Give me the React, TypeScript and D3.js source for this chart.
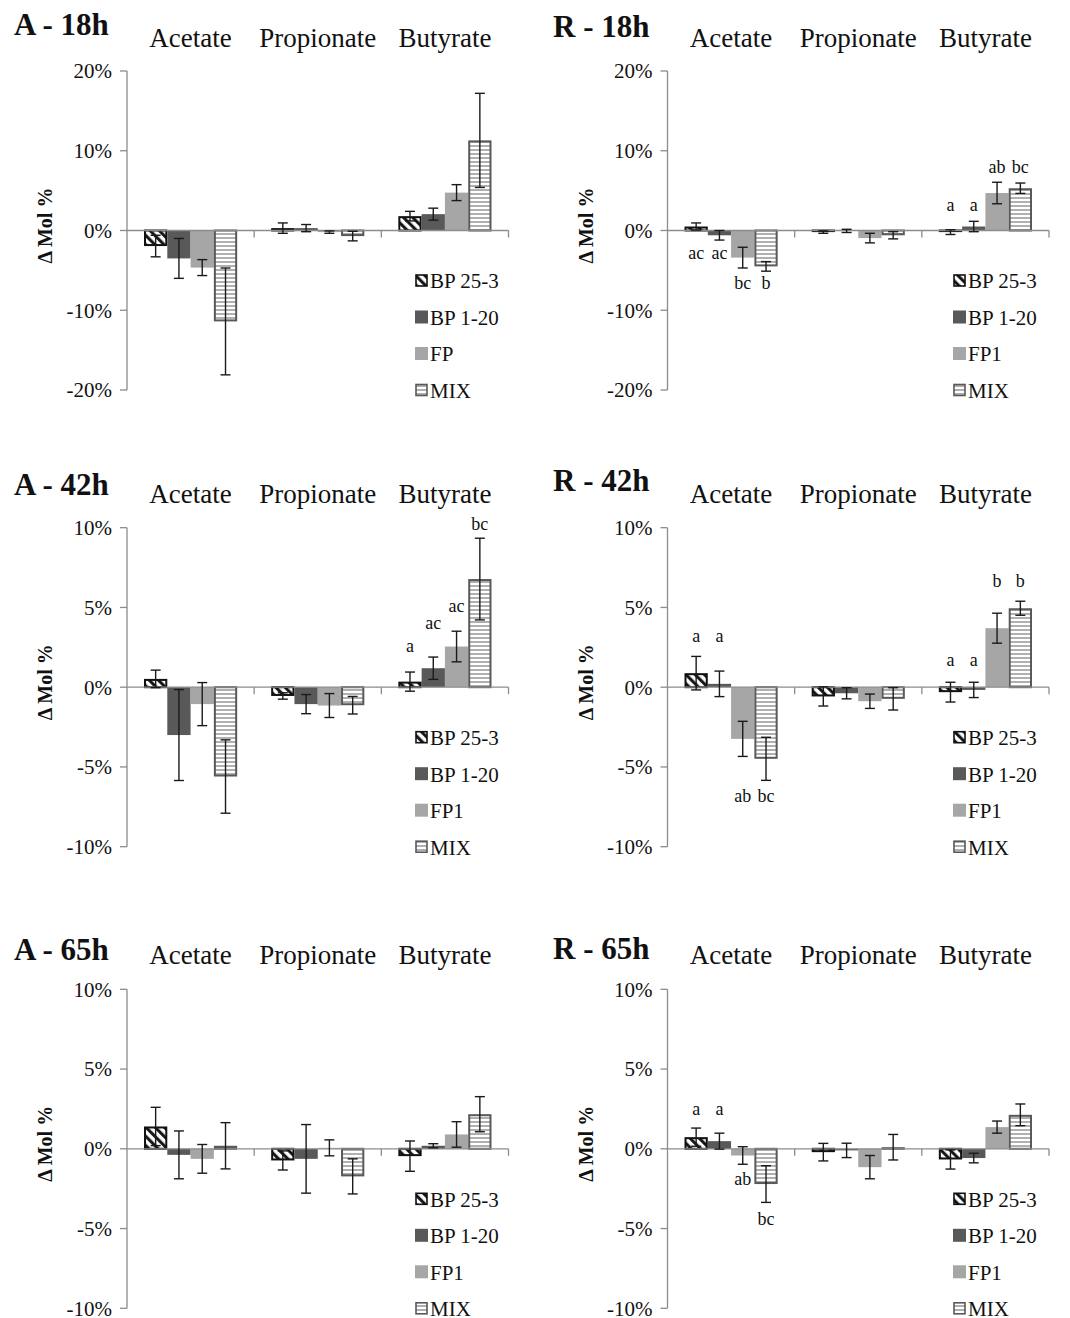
import React from 'react';
import * as d3 from 'd3';

const categories = ['Acetate', 'Propionate', 'Butyrate'];
const seriesA18h = ['BP 25-3', 'BP 1-20', 'FP', 'MIX'];
const seriesNames = ['BP 25-3', 'BP 1-20', 'FP1', 'MIX'];
const ticksWide = [20, 10, 0, -10, -20];
const ticksNarrow = [10, 5, 0, -5, -10];

// values in %, one row per category, one column per series
const a18Mean = [[-1.95, -3.5, -4.65, -11.4], [0.3, 0.3, -0.2, -0.7], [1.8, 2.05, 4.75, 11.3]];
const a18Err = [[1.35, 2.5, 1.0, 6.7], [0.65, 0.45, 0.15, 0.6], [0.6, 0.75, 1.0, 5.9]];
const r18Mean = [[0.5, -0.6, -3.4, -4.5], [-0.2, -0.05, -0.95, -0.6], [-0.2, 0.5, 4.7, 5.3]];
const r18Err = [[0.45, 0.6, 1.3, 0.6], [0.15, 0.2, 0.6, 0.45], [0.3, 0.65, 1.35, 0.65]];
const a42Mean = [[0.52, -3.0, -1.06, -5.6], [-0.55, -1.06, -1.15, -1.13], [0.35, 1.19, 2.55, 6.78]];
const a42Err = [[0.55, 2.85, 1.35, 2.3], [0.2, 0.6, 0.75, 0.55], [0.6, 0.7, 0.96, 2.56]];
const r42Mean = [[0.88, 0.21, -3.24, -4.49], [-0.58, -0.38, -0.88, -0.73], [-0.31, -0.17, 3.7, 4.95]];
const r42Err = [[1.05, 0.8, 1.1, 1.35], [0.6, 0.35, 0.45, 0.7], [0.62, 0.48, 0.94, 0.44]];
const a65Mean = [[1.4, -0.38, -0.63, 0.19], [-0.73, -0.63, 0.06, -1.73], [-0.46, 0.19, 0.9, 2.17]];
const a65Err = [[1.2, 1.5, 0.9, 1.45], [0.6, 2.15, 0.5, 1.1], [0.95, 0.13, 0.8, 1.1]];
const r65Mean = [[0.73, 0.48, -0.42, -2.21], [-0.21, -0.1, -1.15, 0.1], [-0.67, -0.58, 1.36, 2.13]];
const r65Err = [[0.57, 0.5, 0.55, 1.15], [0.55, 0.45, 0.73, 0.8], [0.6, 0.3, 0.38, 0.68]];

// significance letters and the value (%) they sit at
const noLetters = [['', '', '', ''], ['', '', '', ''], ['', '', '', '']];
const noLetterAt = [[0, 0, 0, 0], [0, 0, 0, 0], [0, 0, 0, 0]];
const r18Letters = [['ac', 'ac', 'bc', 'b'], ['', '', '', ''], ['a', 'a', 'ab', 'bc']];
const r18LetterAt = [[-2.9, -2.9, -6.6, -6.6], [0, 0, 0, 0], [3.1, 3.1, 7.9, 7.9]];
const a42Letters = [['', '', '', ''], ['', '', '', ''], ['a', 'ac', 'ac', 'bc']];
const a42LetterAt = [[0, 0, 0, 0], [0, 0, 0, 0], [2.54, 4.0, 5.04, 10.19]];
const r42Letters = [['a', 'a', 'ab', 'bc'], ['', '', '', ''], ['a', 'a', 'b', 'b']];
const r42LetterAt = [[3.16, 3.16, -6.84, -6.84], [0, 0, 0, 0], [1.64, 1.64, 6.6, 6.6]];
const r65Letters = [['a', 'a', 'ab', 'bc'], ['', '', '', ''], ['', '', '', '']];
const r65LetterAt = [[2.44, 2.44, -1.92, -4.44], [0, 0, 0, 0], [0, 0, 0, 0]];

const serif = "'Times New Roman', 'Liberation Serif', serif";
const fills = ['url(#hatch)', '#595959', '#a6a6a6', 'url(#stripes)'];
const strokes = ['#111', 'none', 'none', '#595959'];

const cols = [{x0: 127, titleX: 14}, {x0: 667.5, titleX: 553}];
const rows = [
  {top: 71, titleY: [35, 36.5], catY: 46.7},
  {top: 527.7, titleY: [495, 491], catY: 503.3},
  {top: 989.3, titleY: [960, 958.5], catY: 964.3},
];
const plotW = 381.5;
const plotH = 319;

const panels = [
  {title: 'A - 18h', row: 0, col: 0, ticks: ticksWide, series: seriesA18h, mean: a18Mean, err: a18Err, letters: noLetters, letterAt: noLetterAt},
  {title: 'R - 18h', row: 0, col: 1, ticks: ticksWide, series: seriesNames, mean: r18Mean, err: r18Err, letters: r18Letters, letterAt: r18LetterAt},
  {title: 'A - 42h', row: 1, col: 0, ticks: ticksNarrow, series: seriesNames, mean: a42Mean, err: a42Err, letters: a42Letters, letterAt: a42LetterAt},
  {title: 'R - 42h', row: 1, col: 1, ticks: ticksNarrow, series: seriesNames, mean: r42Mean, err: r42Err, letters: r42Letters, letterAt: r42LetterAt},
  {title: 'A - 65h', row: 2, col: 0, ticks: ticksNarrow, series: seriesNames, mean: a65Mean, err: a65Err, letters: noLetters, letterAt: noLetterAt},
  {title: 'R - 65h', row: 2, col: 1, ticks: ticksNarrow, series: seriesNames, mean: r65Mean, err: r65Err, letters: r65Letters, letterAt: r65LetterAt},
];

function Panel({p}: {p: any}) {
  const {x0, titleX} = cols[p.col];
  const {top, titleY, catY} = rows[p.row];
  const y = d3.scaleLinear().domain(d3.extent(p.ticks) as [number, number]).range([top + plotH, top]);
  const x = d3.scaleBand().domain(categories).range([x0, x0 + plotW]).padding(0);
  const xs = d3.scaleBand().domain(d3.range(4).map(String)).range([0, x.bandwidth()]).paddingInner(0).paddingOuter(0.73);
  const y0 = y(0);
  const axisCol = '#8c8c8c';
  return (
    <g>
      <text x={titleX} y={titleY[p.col]} fontFamily={serif} fontWeight="bold" fontSize={31} fill="#111">{p.title}</text>
      {categories.map(c => (
        <text key={c} x={x(c)! + x.bandwidth() / 2} y={catY} textAnchor="middle" fontFamily={serif} fontSize={27} fill="#111">{c}</text>
      ))}
      <text transform={`translate(${x0 - 82},${top + plotH / 2 - 5}) rotate(-90)`} textAnchor="middle" dy="0.35em"
        fontFamily={serif} fontWeight="bold" fontSize={20} fill="#111">Δ Mol %</text>
      <line x1={x0} x2={x0} y1={top} y2={top + plotH} stroke={axisCol} strokeWidth={1.3} />
      {p.ticks.map((t: number) => (
        <g key={t}>
          <line x1={x0 - 7} x2={x0} y1={y(t)} y2={y(t)} stroke={axisCol} strokeWidth={1.3} />
          <text x={x0 - 15} y={y(t)} dy="0.35em" textAnchor="end" fontFamily={serif} fontSize={21} fill="#111">{t + '%'}</text>
        </g>
      ))}
      {categories.map((c, ci) => p.mean[ci].map((v: number, si: number) => {
        const bx = x(c)! + xs(String(si))!;
        const bw = xs.bandwidth();
        const e = p.err[ci][si];
        const cx = bx + bw / 2;
        const yt = y(Math.max(v, 0));
        const h = Math.abs(y(v) - y0);
        const ins = strokes[si] === 'none' ? 0 : 1;
        return (
          <g key={c + si}>
            <rect x={bx + ins} y={yt + (v >= 0 ? ins : 0)} width={bw - 2 * ins} height={Math.max(h - ins, 0.5)}
              fill={fills[si]} stroke={strokes[si]} strokeWidth={strokes[si] === 'none' ? 0 : 2} />
          </g>
        );
      }))}
      <line x1={x0} x2={x0 + plotW} y1={y0} y2={y0} stroke={axisCol} strokeWidth={1.3} />
      {[1, 2, 3].map(i => (
        <line key={i} x1={x0 + x.step() * i} x2={x0 + x.step() * i} y1={y0} y2={y0 + 7} stroke={axisCol} strokeWidth={1.3} />
      ))}
      {categories.map((c, ci) => p.mean[ci].map((v: number, si: number) => {
        const cx = x(c)! + xs(String(si))! + xs.bandwidth() / 2;
        const e = p.err[ci][si];
        const lo = y(v - e);
        const hi = y(v + e);
        const letter = p.letters[ci][si];
        return (
          <g key={'e' + c + si} stroke="#1a1a1a" strokeWidth={1.4}>
            <line x1={cx} x2={cx} y1={hi} y2={lo} />
            <line x1={cx - 5} x2={cx + 5} y1={hi} y2={hi} />
            <line x1={cx - 5} x2={cx + 5} y1={lo} y2={lo} />
            {letter && (
              <text x={cx} y={y(p.letterAt[ci][si])} dy="0.3em" textAnchor="middle" stroke="none"
                fontFamily={serif} fontSize={18} fill="#111">{letter}</text>
            )}
          </g>
        );
      }))}
      {p.series.map((s: string, si: number) => {
        const ly = top + 210 + si * 36.5;
        const sx = x0 + 288 - (p.col === 1 ? 2.5 : 0);
        return (
          <g key={s}>
            <rect x={sx + 1} y={ly - 6} width={11} height={11} fill={fills[si]}
              stroke={strokes[si]} strokeWidth={strokes[si] === 'none' ? 0 : 1.6} />
            {strokes[si] === 'none' && <rect x={sx} y={ly - 7} width={13} height={13} fill={fills[si]} />}
            <text x={sx + 15} y={ly} dy="0.35em" fontFamily={serif} fontSize={21} fill="#111">{s}</text>
          </g>
        );
      })}
    </g>
  );
}

export default function App() {
  return (
    <svg width={1070} height={1318} style={{position: 'absolute', left: 0, top: 0, background: '#fff'}}>
      <defs>
        <pattern id="hatch" patternUnits="userSpaceOnUse" width={6.5} height={6.5} patternTransform="rotate(-45)">
          <rect width={6.5} height={6.5} fill="#fff" />
          <line x1={1.6} x2={1.6} y1={0} y2={6.5} stroke="#111" strokeWidth={3} />
        </pattern>
        <pattern id="stripes" patternUnits="userSpaceOnUse" width={8} height={4}>
          <rect width={8} height={4} fill="#fff" />
          <line x1={0} x2={8} y1={2} y2={2} stroke="#7a7a7a" strokeWidth={1.2} />
        </pattern>
      </defs>
      <rect width={1070} height={1318} fill="#fff" />
      {panels.map(p => <Panel key={p.title} p={p} />)}
    </svg>
  );
}
